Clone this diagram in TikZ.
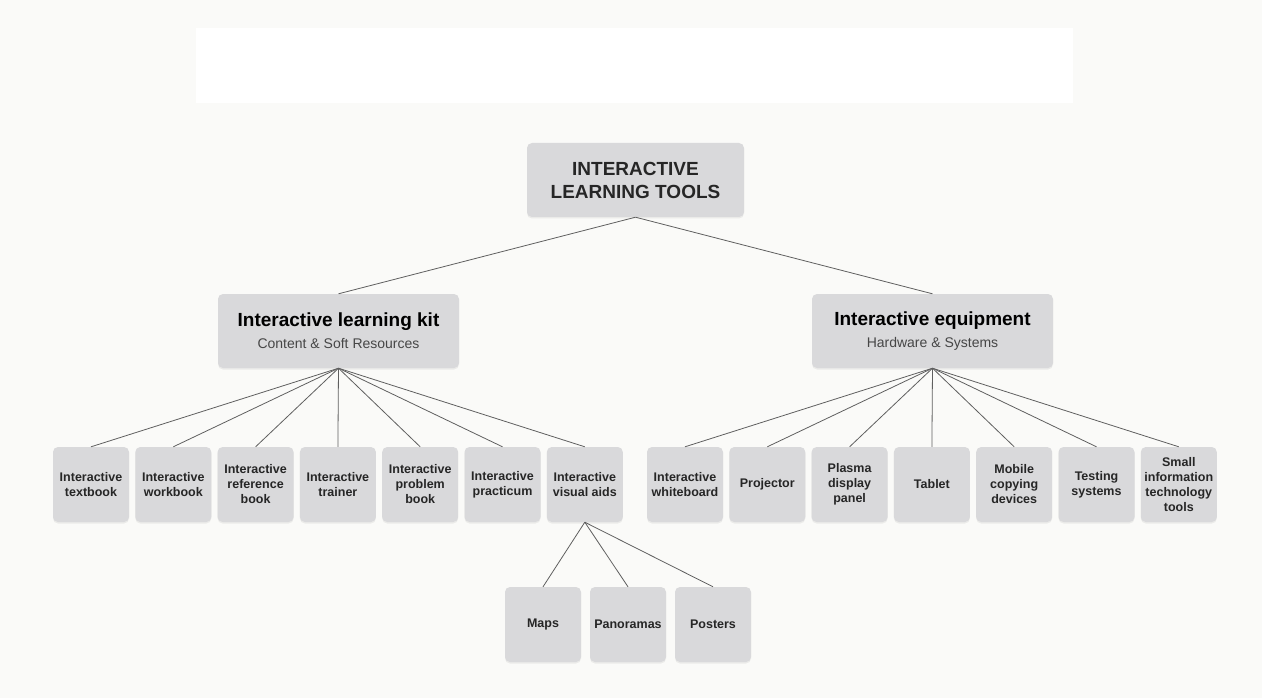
\documentclass[tikz,border=0pt]{standalone}
\usepackage{fontspec}
\setmainfont{Liberation Sans}
\usepackage{xcolor}
\usetikzlibrary{shadows}
\definecolor{boxgray}{RGB}{217,217,219}
\definecolor{linegray}{RGB}{95,95,95}
\definecolor{subgray}{RGB}{70,70,70}
\definecolor{paper}{RGB}{250,250,248}

\begin{document}
\begin{tikzpicture}[x=1pt, y=-1pt,
    box/.style={fill=boxgray, rounded corners=5pt, align=center, inner sep=0pt,
        drop shadow={opacity=0.12, shadow xshift=0pt, shadow yshift=-1.5pt}},
    leaf/.style={box, minimum width=76pt, minimum height=75pt,
        font=\fontsize{12.5}{15}\selectfont\bfseries, text=black!85},
    group/.style={box, minimum width=241pt, minimum height=74pt,
        font=\fontsize{14}{22}\selectfont, text=subgray},
    link/.style={linegray, line width=0.8pt}]
    % Parameters
        \def\gap{82.3} % Distance between leaf boxes
        \def\rowy{484.5} % Middle of the leaf row

        % Background
        \useasboundingbox (0,0) rectangle (1262,698);
        \fill[paper] (0,0) rectangle (1262,698);
        \fill[white] (196,28) rectangle (1073,103);

        % Root and the two groups
        \node[box, minimum width=217pt, minimum height=74pt,
            font=\fontsize{19}{23}\selectfont\bfseries, text=black!85]
            (root) at (635.5,180) {INTERACTIVE\\LEARNING TOOLS};
        \node[group] (kit) at (338.5,331)
            {{\fontsize{19}{22}\selectfont\bfseries\color{black}Interactive learning kit}\\Content \& Soft Resources};
        \node[group] (equip) at (932.5,331)
            {{\fontsize{19}{22}\selectfont\bfseries\color{black}Interactive equipment}\\Hardware \& Systems};
        \draw[link] (root.south) -- (kit.north);
        \draw[link] (root.south) -- (equip.north);

        % Learning kit leaves
        \foreach \t [count=\i] in {{Interactive\\textbook}, {Interactive\\workbook},
            {Interactive\\reference\\book}, {Interactive\\trainer},
            {Interactive\\problem\\book}, {Interactive\\practicum},
            {Interactive\\visual aids}} {
            \node[leaf] (kit\i) at ({91+(\i-1)*\gap},\rowy) {\t};
            \draw[link] (kit.south) -- (kit\i.north);
        }

        % Equipment leaves
        \foreach \t [count=\i] in {{Interactive\\whiteboard}, {Projector},
            {Plasma\\display\\panel}, {Tablet}, {Mobile\\copying\\devices},
            {Testing\\systems}, {Small\\information\\technology\\tools}} {
            \node[leaf] (equip\i) at ({685+(\i-1)*\gap},\rowy) {\t};
            \draw[link] (equip.south) -- (equip\i.north);
        }

        % Visual aids
        \foreach \t [count=\i] in {Maps, Panoramas, Posters} {
            \node[leaf] (aid\i) at ({543+(\i-1)*85},624.5) {\t};
            \draw[link] (kit7.south) -- (aid\i.north);
        }
    \end{tikzpicture}
\end{document}
